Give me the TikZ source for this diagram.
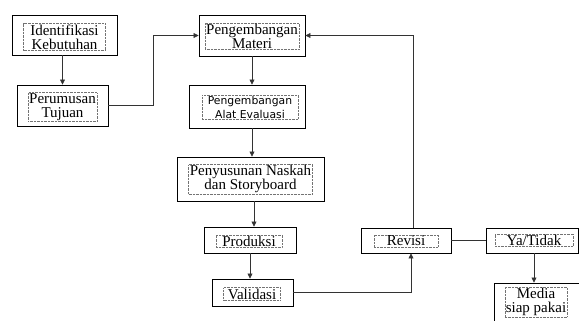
\documentclass[tikz,border=0pt]{standalone}
\usepackage{fontspec}
\setmainfont{Liberation Serif}
\newfontfamily\alatfont{DejaVu Sans}
\usetikzlibrary{arrows.meta}

\begin{document}
\begin{tikzpicture}[x=1pt,y=-1pt,
	box/.style={draw, line width=0.9pt, inner sep=0pt},
	txt/.style={draw=black!55, densely dotted, line width=0.4pt, align=center, inner sep=1pt, font=\fontsize{15}{14}\selectfont},
	link/.style={line width=0.7pt, draw=black!80},
	arr/.style={link, -{Triangle[width=5pt,length=5pt]}}]
	\clip (0,0) rectangle (579,321);
	% boxes
	\node [box, minimum width=105pt, minimum height=40pt] (ident) at (64.5,35) {};
	\node [txt, minimum width=82pt] (identT) at (64.5,37) {Identifikasi\\Kebutuhan};
	\node [box, minimum width=91pt, minimum height=41pt] (rumus) at (62.5,105.5) {};
	\node [txt, minimum width=62pt] (rumusT) at (62.5,107) {Perumusan\\Tujuan};
	\node [box, minimum width=106pt, minimum height=41pt] (materi) at (252,35.5) {};
	\node [txt, minimum width=86pt] (materiT) at (252,36) {Pengembangan\\Materi};
	\node [box, minimum width=116pt, minimum height=43pt] (alat) at (247,106.5) {};
	\node [txt, minimum width=96pt, font=\alatfont\fontsize{10.8}{14}\selectfont] (alatT) at (250,107) {Pengembangan\\Alat Evaluasi};
	\node [box, minimum width=147pt, minimum height=44pt] (naskah) at (250.5,179) {};
	\node [txt, minimum width=124pt] (naskahT) at (250.5,179) {Penyusunan Naskah\\dan Storyboard};
	\node [box, minimum width=92pt, minimum height=26pt] (produksi) at (250,240) {};
	\node [txt, minimum width=66pt] (produksiT) at (249,241) {Produksi};
	\node [box, minimum width=81pt, minimum height=27pt] (validasi) at (252.5,292.5) {};
	\node [txt, minimum width=57pt] (validasiT) at (252,294) {Validasi};
	\node [box, minimum width=90pt, minimum height=25pt] (revisi) at (406,240.5) {};
	\node [txt, minimum width=64pt] (revisiT) at (406,241) {Revisi};
	\node [box, minimum width=92pt, minimum height=25pt] (yatidak) at (532,240.5) {};
	\node [txt, minimum width=78pt] (yatidakT) at (534,240) {Ya/Tidak};
	\node [box, minimum width=85pt, minimum height=46pt] (media) at (536.5,306) {};
	\node [txt, minimum width=62pt] (mediaT) at (536,302) {Media\\siap pakai};

	% connectors
	\draw [arr] (rumus.north |- ident.south) -- (rumus.north);
	\draw [arr] (rumus.east) -- ++(45,0) |- (materi.west);
	\draw [arr] (materi.south) -- (materi.south |- alat.north);
	\draw [arr] ([xshift=5pt]alat.south) -- ([xshift=5pt]alat.south |- naskah.north);
	\draw [arr] ([xshift=4pt]produksi.north |- naskah.south) -- ([xshift=4pt]produksi.north);
	\draw [arr] (produksi.south) -- (produksi.south |- validasi.north);
	\draw [arr] (validasi.east) -| ([xshift=5pt]revisi.south);
	\draw [arr] ([xshift=7pt]revisi.north) |- (materi.east);
	\draw [link] (revisi.east) -- (yatidak.west);
	\draw [arr] ([xshift=2pt]yatidak.south) -- ([xshift=2pt]yatidak.south |- media.north);
\end{tikzpicture}
\end{document}
